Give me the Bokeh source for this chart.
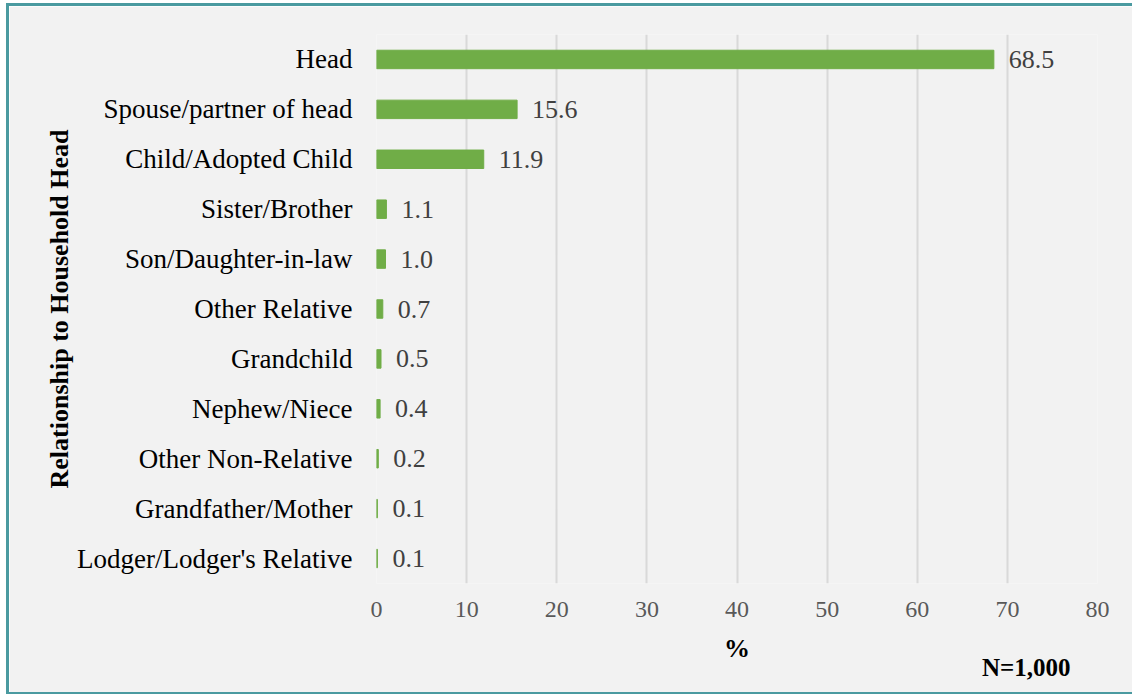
from bokeh.embed import file_html
from bokeh.models import ColumnDataSource, FactorRange, FixedTicker, LabelSet, Range1d, Title
from bokeh.plotting import figure
from bokeh.resources import INLINE

# Share of household members by relationship to the household head (N=1,000)
categories = [
    "Head",
    "Spouse/partner of head",
    "Child/Adopted Child",
    "Sister/Brother",
    "Son/Daughter-in-law",
    "Other Relative",
    "Grandchild",
    "Nephew/Niece",
    "Other Non-Relative",
    "Grandfather/Mother",
    "Lodger/Lodger's Relative",
]
shares = [68.5, 15.6, 11.9, 1.1, 1.0, 0.7, 0.5, 0.4, 0.2, 0.1, 0.1]
x_ticks = [0, 10, 20, 30, 40, 50, 60, 70, 80]

FONT = "Liberation Serif"
BG = "#f2f2f2"
TEAL = "#4a9aa0"
BAR = "#70ad47"

source = ColumnDataSource(dict(
    cat=categories,
    val=shares,
    lbl=[f"{v:.1f}" for v in shares],
))

p = figure(
    width=1123,
    height=686,
    y_range=FactorRange(*reversed(categories)),
    x_range=Range1d(0, 80),
    output_backend="svg",
    toolbar_location=None,
    min_border_left=367,
    min_border_right=35,
    min_border_top=28,
    min_border_bottom=109,
)
# teal frame on the left, top and bottom of the chart panel
p.styles = {
    "margin-left": "9px",
    "margin-top": "6px",
    "box-shadow": f"-3px 0 0 {TEAL}, 0 -3px 0 {TEAL}, 0 3px 0 {TEAL}, -3px -3px 0 {TEAL}, -3px 3px 0 {TEAL}",
}

p.background_fill_color = BG
p.border_fill_color = BG
p.outline_line_color = None

p.hbar(y="cat", left=0, right="val", height=0.37, color=BAR, source=source)

p.add_layout(LabelSet(
    x="val", y="cat", text="lbl", source=source,
    x_offset=15, text_baseline="middle", text_align="left",
    text_font_size="26px", text_color="#404040", text_font=FONT,
))

# x axis
p.xaxis.ticker = FixedTicker(ticks=x_ticks)
p.xaxis.axis_line_color = None
p.xaxis.major_tick_line_color = None
p.xaxis.minor_tick_line_color = None
p.xaxis.major_label_text_font = FONT
p.xaxis.major_label_text_font_size = "24px"
p.xaxis.major_label_text_color = "#595959"
p.xaxis.major_label_standoff = 12
p.xaxis.axis_label = "%"
p.xaxis.axis_label_text_font = FONT
p.xaxis.axis_label_text_font_size = "26px"
p.xaxis.axis_label_text_font_style = "bold"
p.xaxis.axis_label_text_color = "#000000"
p.xaxis.axis_label_standoff = 14

# y axis
p.yaxis.axis_line_color = None
p.yaxis.major_tick_line_color = None
p.yaxis.minor_tick_line_color = None
p.yaxis.major_label_text_font = FONT
p.yaxis.major_label_text_font_size = "27px"
p.yaxis.major_label_text_color = "#000000"
p.yaxis.major_label_standoff = 18
p.yaxis.axis_label = "Relationship to Household Head"
p.yaxis.axis_label_text_font = FONT
p.yaxis.axis_label_text_font_size = "26px"
p.yaxis.axis_label_text_font_style = "bold"
p.yaxis.axis_label_text_color = "#000000"
p.yaxis.axis_label_standoff = 0

p.xgrid.grid_line_color = "#d9d9d9"
p.xgrid.grid_line_width = 2
p.ygrid.grid_line_color = None

# sample size note under the axis title
p.add_layout(Title(
    text="N=1,000", align="right", offset=27, standoff=-30,
    text_font=FONT, text_font_size="25px", text_font_style="bold", text_color="#000000",
), "below")

open("out.html", "w").write(file_html(p, INLINE))
